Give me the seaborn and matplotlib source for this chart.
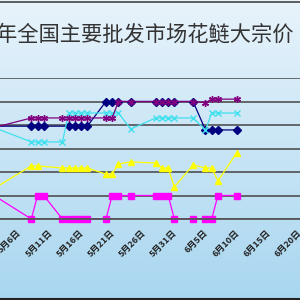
"""Wholesale price trend of bighead carp (花鲢) at major markets, cropped view."""

import matplotlib
matplotlib.use('Agg')
import matplotlib.pyplot as plt
import matplotlib.transforms as mtrans
from matplotlib.lines import Line2D
import numpy as np
import seaborn as sns

sns.set_style('white')
plt.rcParams['font.family'] = ['Noto Sans CJK SC', 'DejaVu Sans']

# --- data ---
title = '年全国主要批发市场花鲢大宗价'
tick_labels = ['5月6日', '5月11日', '5月16日', '5月21日', '5月26日',
               '5月31日', '6月5日', '6月10日', '6月15日', '6月20日']
# days counted from 5月6日
days = [-5, 1, 2, 3, 6, 7, 8, 9, 10, 13, 14, 15, 17, 21, 22, 23, 24, 27, 29, 30, 31, 34]
nan = np.nan
navy = [9.95, 9.95, 9.95, 9.95, nan, 9.95, 9.95, 9.95, 9.95, 11.0, 11.0, 11.0,
        11.0, 11.0, 11.0, 11.0, 11.0, 11.0, 9.79, 9.79, 9.79, 9.79]
magenta = [7.0, 6.0, 7.0, 7.0, 6.0, 6.0, 6.0, 6.0, 6.0, 6.0, 7.0, 7.0,
           7.0, 7.0, 7.0, 7.0, 6.0, 6.0, 6.0, 6.0, 7.0, 7.0]
yellow = [7.3, 8.26, 8.26, nan, 8.17, 8.17, 8.17, 8.17, 8.17, 7.91, 7.91, 8.34,
          8.43, 8.38, 8.17, 8.17, 7.36, 8.30, 8.17, 8.17, 7.62, 8.81]
cyan = [9.89, 9.28, 9.28, 9.28, 9.28, 10.51, 10.51, 10.51, 10.51, 10.51, 10.51, 10.51,
        9.83, 10.30, 10.30, 10.30, 10.30, 10.30, 9.79, 10.51, 10.51, 10.51]
purple = [9.89, 10.30, 10.30, 10.30, 10.30, 10.30, 10.30, 10.30, 10.30, 10.30, 10.30, 11.0,
          11.0, 11.0, 11.0, 11.0, 11.0, 11.0, 10.95, 11.1, 11.1, 11.1]

series = [
    (navy, '#000080', 'D', 4.0),
    (magenta, '#FF00FF', 's', 4.3),
    (yellow, '#FFFF00', '^', 5.0),
    (cyan, '#40E0EE', 'x', 4.3),
    (purple, '#800080', (6, 2, 0), 5.0),
]

fig = plt.figure(figsize=(3, 3), dpi=100)

# light blue gradient background
bg = fig.add_axes([0, 0, 1, 1], zorder=-5)
top = np.array([0.91, 0.955, 0.985])
bottom = np.array([0.66, 0.84, 0.94])
t = np.linspace(0, 1, 256)[:, None]
grad = top[None, :] * (1 - t) + bottom[None, :] * t
bg.imshow(grad[:, None, :], aspect='auto', extent=[0, 1, 0, 1])
bg.set_axis_off()

# plot area (extends a little past both figure edges, as in the crop)
ax = fig.add_axes([-0.0303, 0.27, 1.078, 0.47])
ax.set_facecolor('none')

x_mid = np.array(days) + 0.5  # points sit in the middle of each day
for vals, color, marker, ms in series:
    v = np.array(vals)
    ok = ~np.isnan(v)
    sns.lineplot(x=x_mid[ok], y=v[ok], color=color, marker=marker, markersize=ms,
                 markeredgecolor=color, markeredgewidth=1.0, linewidth=0.9,
                 estimator=None, sort=False, ax=ax, clip_on=False)

ax.set_xlim(-5, 47)
ax.set_ylim(6, 12)
ax.set_yticks(np.arange(6, 13, 1))
ax.set_yticklabels([])
ax.tick_params(axis='y', length=0)
ax.yaxis.grid(True, color='#444444', linewidth=1.1)
ax.set_axisbelow(True)
for side in ['top', 'left', 'right']:
    ax.spines[side].set_visible(False)
ax.spines['bottom'].set_color('#555555')
ax.spines['bottom'].set_linewidth(1.3)

ax.set_xticks(np.arange(0, 50, 5))
ax.set_xticklabels(tick_labels, rotation=45, ha='right', va='center',
                   rotation_mode='anchor', fontsize=6.5, fontweight='bold', color='#222222')
ax.tick_params(axis='x', direction='in', length=2.5, width=1, color='#333333', pad=9)
shift = mtrans.ScaledTranslation(-2 / 100, 0, fig.dpi_scale_trans)
for lab in ax.get_xticklabels():
    lab.set_transform(lab.get_transform() + shift)

fig.text(-4 / 300, 1 - 34.5 / 300, title, fontsize=15.3, ha='left', va='center', color='#333333')

# thin frame lines at the top and bottom of the crop
fig.add_artist(Line2D([0, 1], [1 - 1.5 / 300, 1 - 1.5 / 300], transform=fig.transFigure,
                      color='#444444', linewidth=1.2))
fig.add_artist(Line2D([0, 1], [1 / 300, 1 / 300], transform=fig.transFigure,
                      color='#222222', linewidth=1.5))

fig.savefig('out.png', dpi=100)
